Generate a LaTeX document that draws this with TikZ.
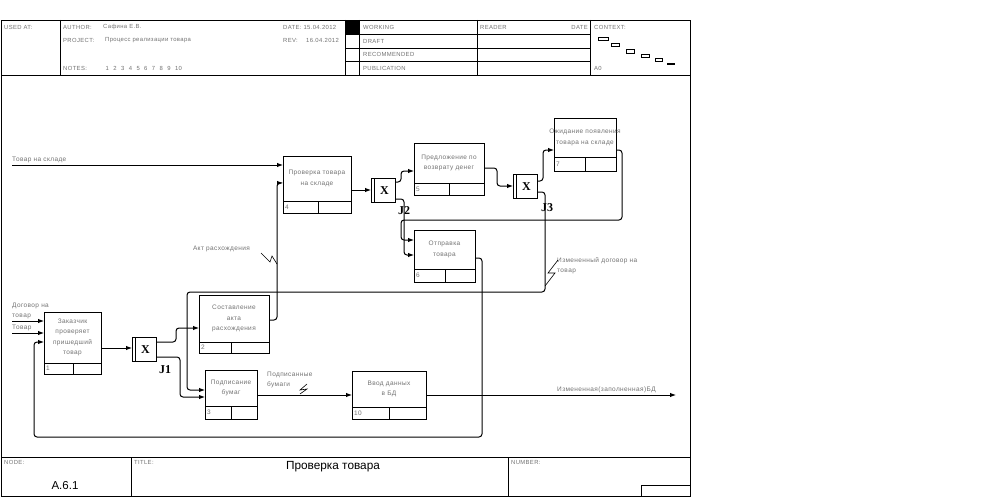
\documentclass[tikz,border=0pt]{standalone}
\usepackage{fontspec}
\setmainfont{Liberation Sans}
\newfontfamily\serifb{Liberation Serif}
\newfontfamily\lblfont[LetterSpace=6]{Liberation Sans}
\usetikzlibrary{arrows.meta}
\definecolor{txtgray}{RGB}{115,115,115}
\newcommand{\ideff}[9]{%
  \node[boxst,minimum width={#4-#2},minimum height={#5-#3}] (#1) at (#2,#3) {};
  \draw[line width=1pt] (#2,#6) -- (#4,#6) (#7,#6) -- (#7,#5);
  \node[lbl,anchor=west] (#1n) at (#2+2,{(#6+#5)/2}) {#8};
  \node[lbl] (#1t) at ({(#2+#4)/2},{(#3+#6)/2}) {#9};
}
\newcommand{\idefj}[3]{%
  \node[jbox] (#1) at (#2,#3) {};
  \draw[line width=0.8pt] (#2+3,#3) -- (#2+3,#3+24);
  \node[jlbl] (#1x) at (#2+13.5,#3+12.5) {X};
}
\begin{document}
\begin{tikzpicture}[x=1pt,y=-1pt,
  frame/.style={draw=black,line width=0.8pt},
  conn/.style={draw=black,line width=1pt,rounded corners=3pt},
  arr/.style={conn,-{Latex[length=6pt,width=4.5pt]}},
  boxst/.style={draw=black,line width=1pt,inner sep=0pt,outer sep=0pt,anchor=north west},
  lbl/.style={font=\lblfont\fontsize{6.5}{10.3}\selectfont,text=txtgray,inner sep=0pt,align=center},
  hdr/.style={font=\lblfont\fontsize{5.9}{7}\selectfont,text=txtgray,inner sep=0pt,anchor=west},
  jbox/.style={draw=black,line width=1pt,inner sep=0pt,outer sep=0pt,anchor=north west,minimum width=24pt,minimum height=24pt},
  jlbl/.style={font=\serifb\bfseries\fontsize{12}{12}\selectfont,inner sep=0pt},
  squig/.style={draw=black,line width=0.6pt},
]
\fill[white] (0,0) rectangle (994,503);
\useasboundingbox (0,0) rectangle (994,503);
% ---------- frame ----------
\draw[frame] (1,20) rectangle (690,496);
\draw[frame] (1,75) -- (690,75);
\draw[frame] (60,20) -- (60,75);
\draw[frame] (345,20) -- (345,75);
\draw[frame] (359,20) -- (359,75);
\draw[frame] (477,20) -- (477,75);
\draw[frame] (590,20) -- (590,75);
\foreach \yy in {34,48,61} \draw[frame] (345,\yy) -- (590,\yy);
\fill[black] (345.5,20.5) rectangle (359,34);
\node[hdr] (usedat) at (4,27) {USED AT:};
\node[hdr] (author) at (63,27) {AUTHOR:};
\node[hdr] (authorv) at (103,27) {Сафина Е.В.};
\node[hdr] (date) at (283,27) {DATE: 15.04.2012};
\node[hdr] (project) at (63,40) {PROJECT:};
\node[hdr] (projectv) at (105,40) {Процесс реализации товара};
\node[hdr] (rev) at (283,40) {REV:};
\node[hdr] (revv) at (306,40) {16.04.2012};
\node[hdr] (notes) at (63,68) {NOTES:};
\foreach \nn [count=\ii from 0] in {1,2,3,4,5,6,7,8,9,10}
  \node[hdr] (note\nn) at (105.5+7.7*\ii,68) {\nn};
\node[hdr] (working) at (363,27) {WORKING};
\node[hdr] (draft) at (363,41) {DRAFT};
\node[hdr] (recom) at (363,54.5) {RECOMMENDED};
\node[hdr] (publ) at (363,68) {PUBLICATION};
\node[hdr] (reader) at (480,27) {READER};
\node[hdr,anchor=east] (rdate) at (588,27) {DATE};
\node[hdr] (context) at (594,27) {CONTEXT:};
\node[hdr] (a0) at (594,68) {A0};
\draw[line width=0.6pt] (598,37) rectangle (608,40.5);
\draw[line width=0.6pt] (611.5,43.5) rectangle (619,46.5);
\draw[line width=0.6pt] (626,49.5) rectangle (634,53);
\draw[line width=0.6pt] (641,54.5) rectangle (649,57.5);
\draw[line width=0.6pt] (655,58.5) rectangle (662,61.5);
\fill[black] (667,63) rectangle (675,65.5);
% ---------- footer ----------
\draw[frame] (1,457) -- (690,457);
\draw[frame] (131,457) -- (131,496);
\draw[frame] (508,457) -- (508,496);
\draw[frame] (641,485) rectangle (690,496);
\node[hdr] (nodelbl) at (4,462.5) {NODE:};
\node[hdr] (titlelbl) at (134,462.5) {TITLE:};
\node[hdr] (numlbl) at (511,462.5) {NUMBER:};
\node[font=\fontsize{11.5}{12}\selectfont,inner sep=0pt] (nodeval) at (65,486) {A.6.1};
\node[font=\fontsize{11.8}{12}\selectfont,inner sep=0pt] (titleval) at (333,467) {Проверка товара};
% ---------- activity boxes ----------
\ideff{b1}{44}{312}{101}{374}{363}{73}{1}{Заказчик\\проверяет\\пришедший\\товар}
\ideff{b2}{199}{295}{269}{353}{342}{231}{2}{Составление\\акта\\расхождения}
\ideff{b3}{205}{370}{257}{419}{406}{231}{3}{Подписание\\бумаг}
\ideff{b4}{283}{156}{351}{213}{201}{318}{4}{Проверка товара\\на складе}
\ideff{b5}{414}{143}{484}{195}{183}{449}{5}{Предложение по\\возврату денег}
\ideff{b6}{414}{230}{475}{282}{269}{445}{6}{Отправка\\товара}
\ideff{b7}{554}{118}{616}{171}{157}{585}{7}{Ожидание появления\\товара на складе}
\ideff{b10}{352}{371}{426}{419}{407}{389}{10}{Ввод данных\\в БД}
% ---------- junctions ----------
\idefj{j1}{132}{337}
\idefj{j2}{371}{178}
\idefj{j3}{513}{174}
\node[jlbl] (j1l) at (165,370) {J1};
\node[jlbl] (j2l) at (404,211) {J2};
\node[jlbl] (j3l) at (547,208) {J3};
% ---------- free ends ----------
\coordinate (inSklad) at (12,165);
\coordinate (inDog) at (12,321);
\coordinate (inTov) at (12,333);
\coordinate (outBD) at (676,395);
% ---------- connectors ----------
\draw[arr] (inSklad) -- (inSklad -| b4.west);
\node[lbl,anchor=south west] (lSklad) at (12,163.5) {Товар на складе};
\draw[arr] (inDog) -- (inDog -| b1.west);
\node[lbl,anchor=south west,align=left] (lDog) at (12,319) {Договор на\\товар};
\draw[arr] (inTov) -- (inTov -| b1.west);
\node[lbl,anchor=south west] (lTov) at (12,331) {Товар};
% b1 -> j1
\draw[arr] (b1.east |- 0,348) -- (j1.west |- 0,348);
% j1 -> b2
\draw[arr] (j1.east |- 0,342) -- (176,342) -- (176,328) -- (b2.west |- 0,328);
% j1 -> b3
\draw[arr] (j1.east |- 0,357) -- (180,357) -- (180,397) -- (b3.west |- 0,397);
% b2 -> b4
\draw[arr] (b2.east |- 0,320) -- (277,320) -- (277,183) -- (b4.west |- 0,183);
\node[lbl,anchor=east] (lAkt) at (250,249) {Акт расхождения};
\draw[squig] (261,253) -- (270,262) -- (272,256) -- (277,264);
% b4 -> j2
\draw[arr] (b4.east |- 0,190) -- (j2.west |- 0,190);
% j2 -> b5
\draw[arr] (j2.east |- 0,182) -- (401,182) -- (401,171) -- (b5.west |- 0,171);
% j2 -> b6
\draw[arr] (j2.east |- 0,199) -- (404,199) -- (404,255) -- (b6.west |- 0,255);
% b5 -> j3
\draw[arr] (b5.east |- 0,168) -- (497,168) -- (497,186) -- (j3.west |- 0,186);
% j3 -> b7
\draw[arr] (j3.east |- 0,181) -- (543,181) -- (543,150) -- (b7.west |- 0,150);
% b7 -> b6 loop
\draw[arr] (b7.east |- 0,150) -- (622,150) -- (622,220) -- (401,220) -- (401,240) -- (b6.west |- 0,240);
% j3 -> b3 (changed contract)
\draw[arr] (j3.east |- 0,192) -- (545,192) -- (545,292) -- (187,292) -- (187,390) -- (b3.west |- 0,390);
\node[lbl,anchor=north west,align=left] (lIzmDog) at (557,257.5) {Измененный договор на\\товар};
\draw[squig] (558,260) -- (548,273) -- (555,273) -- (545,286);
% b6 -> b1 loop
\draw[arr] (b6.east |- 0,258) -- (482,258) -- (482,437) -- (34,437) -- (34,342) -- (b1.west |- 0,342);
% b3 -> b10
\draw[arr] (b3.east |- 0,395) -- (b10.west |- 0,395);
\node[lbl,anchor=north west,align=left] (lPodp) at (267,372) {Подписанные\\бумаги};
\draw[squig] (307,384) -- (300,390) -- (307,389) -- (300,394);
% b10 -> output
\draw[arr] (b10.east |- 0,395) -- (outBD);
\node[lbl,anchor=south west] (lBD) at (557,393) {Измененная(заполненная)БД};
\end{tikzpicture}
\end{document}
